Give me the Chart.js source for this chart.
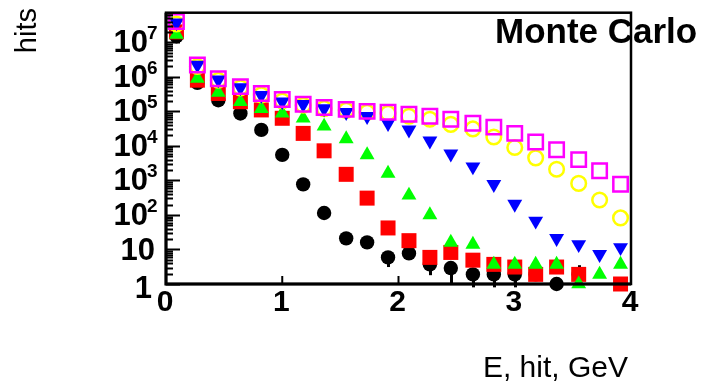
<!DOCTYPE html>
<html>
<head>
<meta charset="utf-8">
<script src="https://cdn.jsdelivr.net/npm/chart.js"></script>
<style>
  html, body { margin: 0; padding: 0; background: #ffffff; }
  #wrap { position: relative; width: 705px; height: 383px; }
</style>
</head>
<body>
<div id="wrap"><canvas id="c" width="705" height="383"></canvas></div>
<script>
// bin centres (E, GeV) - 22 bins between 0 and 4
var energy = [0.09, 0.27, 0.45, 0.64, 0.82, 1.00, 1.18, 1.36, 1.55, 1.73, 1.91,
              2.09, 2.27, 2.45, 2.64, 2.82, 3.00, 3.18, 3.36, 3.55, 3.73, 3.91];

// hits per bin (null = empty bin)
var blackHits   = [1.5e7, 6.7e5, 2.1e5, 8.7e4, 2.9e4, 5.5e3, 770, 114, 21, 16, 5.9,
                   7.7, 3.7, 2.9, 1.9, 1.9, 1.9, 1.9, 1.0, 1.9, null, null];
var redHits     = [2.0e7, 8.0e5, 3.3e5, 1.9e5, 1.1e5, 6.3e4, 2.3e4, 7.2e3, 1.5e3, 307, 42,
                   18, 5.9, 8.2, 4.9, 3.7, 3.1, 1.9, 3.1, 1.9, null, 1.0];
var greenHits   = [1.7e7, 9.0e5, 3.5e5, 1.9e5, 1.2e5, 8.8e4, 6.3e4, 3.7e4, 1.6e4, 5.5e3, 1.6e3,
                   370, 100, 16, 14, 3.7, 3.7, 3.7, 3.7, 1.0, 1.9, 3.7];
var blueHits    = [3.7e7, 2.2e6, 8.2e5, 4.9e5, 2.9e5, 1.9e5, 1.6e5, 1.2e5, 9.4e4, 7.2e4, 4.5e4,
                   2.9e4, 1.4e4, 5.9e3, 2.5e3, 770, 207, 67, 21, 14, 7.2, 11.4];
var yellowHits  = [3.4e7, 2.0e6, 8.0e5, 4.8e5, 3.0e5, 2.0e5, 1.5e5, 1.2e5, 1.07e5, 9.4e4, 8.8e4,
                   7.2e4, 5.9e4, 4.2e4, 3.1e4, 1.8e4, 9.0e3, 4.5e3, 2.1e3, 820, 270, 82];
var magentaHits = [4.0e7, 2.2e6, 8.8e5, 5.2e5, 3.3e5, 2.2e5, 1.6e5, 1.3e5, 1.14e5, 1.0e5, 9.4e4,
                   8.2e4, 7.2e4, 5.9e4, 4.5e4, 3.5e4, 2.3e4, 1.3e4, 7.7e3, 4.0e3, 1.9e3, 770];

// error bar ends for the black points (only where they stick out of the marker)
var blackErrLow  = [null, null, null, null, null, null, null, null, null, null, 3.1,
                    null, 1.8, 1.07, 0.8, 0.8, 0.8, null, null, 1.9, null, null];
var blackErrHigh = [null, null, null, null, null, null, null, null, null, null, 5.9,
                    null, 3.7, 2.9, 1.9, 1.9, 1.9, null, null, 3.5, null, null];

// axis labels / ticks
var xTicks = [0, 1, 2, 3, 4];
var yExponents = [0, 1, 2, 3, 4, 5, 6, 7];
var yMin = 1, yMax = 7.2e7;

function toPoints(vals) {
    var pts = [];
    for (var i = 0; i < vals.length; i++) {
        if (vals[i] !== null) pts.push({ x: energy[i], y: vals[i] });
    }
    return pts;
}

// error bars under the markers
var errorBars = {
    id: 'errorBars',
    beforeDatasetsDraw: function(chart) {
        var ctx = chart.ctx, xs = chart.scales.x, ys = chart.scales.y;
        ctx.save();
        ctx.strokeStyle = '#000';
        ctx.lineWidth = 3;
        for (var i = 0; i < energy.length; i++) {
            if (blackErrLow[i] === null) continue;
            var px = Math.round(xs.getPixelForValue(energy[i])) + 0.5;
            ctx.beginPath();
            ctx.moveTo(px, ys.getPixelForValue(blackErrLow[i]));
            ctx.lineTo(px, ys.getPixelForValue(blackErrHigh[i]));
            ctx.stroke();
        }
        ctx.restore();
    }
};

// frame, ticks, labels drawn ROOT-style
var rootFrame = {
    id: 'rootFrame',
    afterDraw: function(chart) {
        var ctx = chart.ctx, a = chart.chartArea;
        var xs = chart.scales.x, ys = chart.scales.y;
        ctx.save();

        // "Monte Carlo"
        ctx.fillStyle = '#000';
        ctx.font = 'bold 35px "Liberation Sans", Arial, sans-serif';
        ctx.textAlign = 'left';
        ctx.textBaseline = 'alphabetic';
        ctx.fillText('Monte Carlo', 495, 43);

        // frame
        ctx.strokeStyle = '#000';
        ctx.lineWidth = 2.5;
        ctx.strokeRect(a.left, a.top, a.right - a.left, a.bottom - a.top);
        ctx.lineWidth = 3;
        ctx.beginPath();
        ctx.moveTo(a.left, a.top); ctx.lineTo(a.left, a.bottom); ctx.lineTo(a.right, a.bottom);
        ctx.stroke();

        // y ticks (inside, on the left)
        ctx.lineWidth = 2;
        yExponents.forEach(function(k) {
            for (var m = 1; m <= 9; m++) {
                var v = m * Math.pow(10, k);
                if (v > yMax) break;
                var py = Math.round(ys.getPixelForValue(v)) + 0.5;
                var len = (m === 1) ? 14 : 7;
                ctx.beginPath();
                ctx.moveTo(a.left, py);
                ctx.lineTo(a.left + len, py);
                ctx.stroke();
            }
        });

        // x ticks (inside, bottom)
        xTicks.forEach(function(t) {
            var px = xs.getPixelForValue(t);
            ctx.beginPath();
            ctx.moveTo(px, a.bottom);
            ctx.lineTo(px, a.bottom - 8);
            ctx.stroke();
        });

        // x labels
        ctx.font = 'bold 30px "Liberation Sans", Arial, sans-serif';
        ctx.textAlign = 'center';
        xTicks.forEach(function(t) {
            ctx.fillText(String(t), xs.getPixelForValue(t) - 1, 311);
        });

        // y labels 10^k
        ctx.textAlign = 'right';
        yExponents.forEach(function(k) {
            var py = ys.getPixelForValue(Math.pow(10, k));
            ctx.font = 'bold 31px "Liberation Sans", Arial, sans-serif';
            if (k === 0) {
                ctx.fillText('1', 152, py + 14);
            } else if (k === 1) {
                ctx.fillText('10', 155, py + 11);
            } else {
                ctx.fillText('10', 148, py + 10);
                ctx.font = 'bold 19px "Liberation Sans", Arial, sans-serif';
                ctx.textAlign = 'left';
                ctx.fillText(String(k), 147, py - 3);
                ctx.textAlign = 'right';
            }
        });

        // axis titles
        ctx.font = '30px "Liberation Sans", Arial, sans-serif';
        ctx.textAlign = 'right';
        ctx.fillText('E, hit, GeV', 628, 377);

        ctx.save();
        ctx.translate(36, 8);
        ctx.rotate(-Math.PI / 2);
        ctx.font = '29px "Liberation Sans", Arial, sans-serif';
        ctx.textAlign = 'right';
        ctx.fillText('hits', 0, 0);
        ctx.restore();

        ctx.restore();
    }
};

function ds(label, vals, color, style, radius, filled, rot, order) {
    return {
        label: label,
        data: toPoints(vals),
        pointStyle: style,
        pointRadius: radius,
        pointHoverRadius: radius,
        pointRotation: rot,
        pointBackgroundColor: filled ? color : 'rgba(0,0,0,0)',
        pointBorderColor: color,
        pointBorderWidth: filled ? 0 : 2.5,
        showLine: false,
        clip: false,
        order: order
    };
}

new Chart(document.getElementById('c'), {
    type: 'scatter',
    data: {
        datasets: [
            ds('black', blackHits, '#000000', 'circle', 7.2, true, 0, 5),
            ds('red', redHits, '#ff0000', 'rect', 10.6, true, 0, 4),
            ds('green', greenHits, '#00ff00', 'triangle', 8.6, true, 0, 3),
            ds('yellow', yellowHits, '#ffff00', 'circle', 7.3, false, 0, 2),
            ds('blue', blueHits, '#0000ff', 'triangle', 8.6, true, 180, 1),
            ds('magenta', magentaHits, '#ff00ff', 'rect', 10.2, false, 0, 0)
        ]
    },
    options: {
        responsive: false,
        animation: false,
        events: [],
        layout: { padding: { left: 166, right: 74, top: 9, bottom: 99 } },
        plugins: { legend: { display: false }, tooltip: { enabled: false } },
        scales: {
            x: { type: 'linear', min: 0, max: 4, display: false },
            y: { type: 'logarithmic', min: yMin, max: yMax, display: false }
        }
    },
    plugins: [errorBars, rootFrame]
});
</script>
</body>
</html>
